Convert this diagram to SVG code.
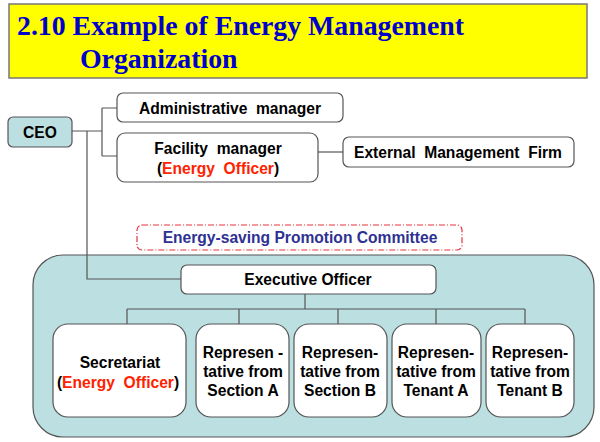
<svg xmlns="http://www.w3.org/2000/svg" width="600" height="442" viewBox="0 0 600 442">
<style>
.box{fill:#fff;stroke:#555;stroke-width:1.2}
.blue{fill:#BCDFE2;stroke:#555;stroke-width:1.2}
.t{font-family:"Liberation Sans",Arial,sans-serif;font-weight:bold;font-size:15.6px;fill:#000;text-anchor:middle;white-space:pre}
.r{fill:#FF2200}
.ln{fill:none;stroke:#555;stroke-width:1.2}
.title{font-family:"Liberation Serif","Times New Roman",serif;font-weight:bold;font-size:27.8px;fill:#0000CC}
</style>
<rect width="600" height="442" fill="#fff"/>
<g id="title">
<rect x="9" y="4" width="578" height="74" fill="#FFFF00" stroke="#777" stroke-width="1.5"/>
<text class="title" x="17" y="35">2.10 Example of Energy Management</text>
<text class="title" x="80" y="68">Organization</text>
</g>
<g id="committee-area">
<rect x="33" y="255" width="561" height="182" rx="30" class="blue"/>
</g>
<g id="connectors">
<path class="ln" d="M72 131 H102 M102 108 V156 M102 108 H117 M102 156 H117"/>
<path class="ln" d="M87 131 V279 H181"/>
<path class="ln" d="M318 152 H343"/>
<path class="ln" d="M305 294 V309 M127 309 H525 M127 309 V324 M239 309 V324 M338 309 V324 M436 309 V324 M525 309 V324"/>
</g>
<g id="ceo">
<rect x="8" y="117" width="64" height="30" rx="5" class="blue"/>
<text class="t" x="40" y="137.5">CEO</text>
</g>
<g id="admin">
<rect x="117" y="93" width="226" height="29" rx="6" class="box"/>
<text class="t" x="230" y="113.5">Administrative  manager</text>
</g>
<g id="facility">
<rect x="117" y="133" width="201" height="49" rx="8" class="box"/>
<text class="t" x="218" y="153.5">Facility  manager</text>
<text class="t" x="218" y="173.5">(<tspan class="r">Energy  Officer</tspan>)</text>
</g>
<g id="external">
<rect x="343" y="137" width="231" height="30" rx="6" class="box"/>
<text class="t" x="458" y="158">External  Management  Firm</text>
</g>
<g id="committee">
<rect x="137" y="225" width="325" height="25" rx="5" fill="#fff" stroke="#E8333A" stroke-width="1.2" stroke-dasharray="6,2,1,2"/>
<text class="t" x="300" y="243" style="fill:#2E3192">Energy-saving Promotion Committee</text>
</g>
<g id="executive">
<rect x="181" y="265" width="255" height="29" rx="6" class="box"/>
<text class="t" x="308" y="285">Executive Officer</text>
</g>
<g id="secretariat">
<rect x="53" y="324" width="133" height="93" rx="15" class="box"/>
<text class="t" x="120" y="367.5">Secretariat</text>
<text class="t" x="118" y="387.5">(<tspan class="r">Energy  Officer</tspan>)</text>
</g>
<g id="section-a">
<rect x="196" y="324" width="93" height="93" rx="15" class="box"/>
<text class="t" x="243" y="357.5">Represen -</text>
<text class="t" x="243" y="376.5">tative from</text>
<text class="t" x="243" y="395.5">Section A</text>
</g>
<g id="section-b">
<rect x="294" y="324" width="93" height="93" rx="15" class="box"/>
<text class="t" x="340" y="357.5">Represen-</text>
<text class="t" x="340" y="376.5">tative from</text>
<text class="t" x="340" y="395.5">Section B</text>
</g>
<g id="tenant-a">
<rect x="392" y="324" width="89" height="93" rx="15" class="box"/>
<text class="t" x="436" y="357.5">Represen-</text>
<text class="t" x="436" y="376.5">tative from</text>
<text class="t" x="436" y="395.5">Tenant A</text>
</g>
<g id="tenant-b">
<rect x="486" y="324" width="88" height="93" rx="15" class="box"/>
<text class="t" x="530" y="357.5">Represen-</text>
<text class="t" x="530" y="376.5">tative from</text>
<text class="t" x="530" y="395.5">Tenant B</text>
</g>
</svg>
